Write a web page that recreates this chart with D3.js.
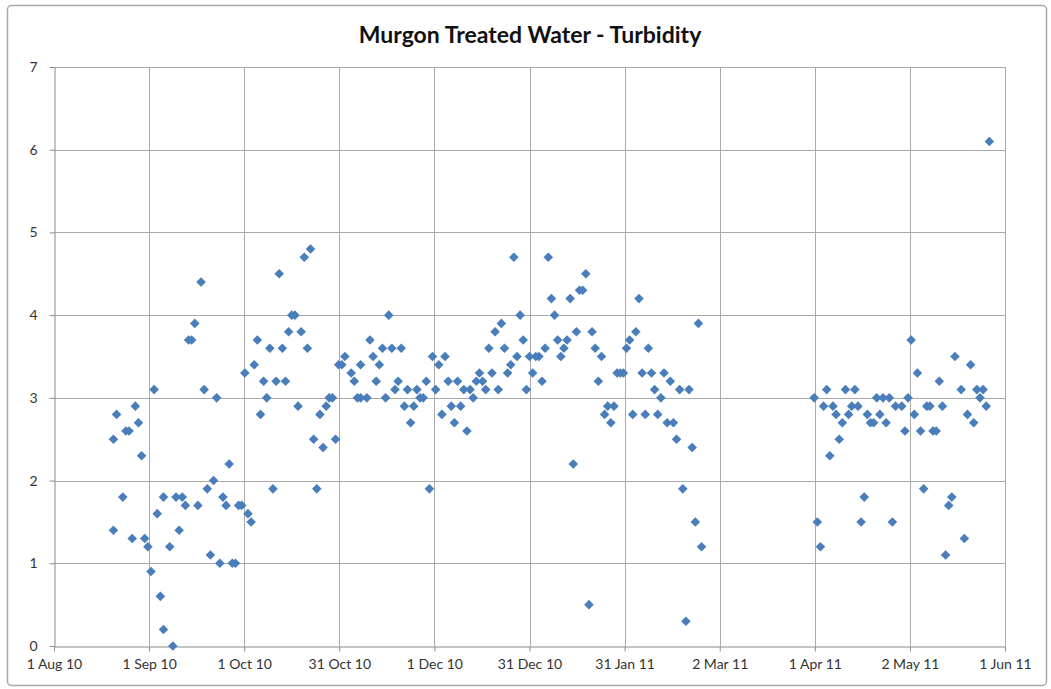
<!DOCTYPE html>
<html lang="en">
<head>
    <meta charset="UTF-8">
    <title>Murgon Treated Water - Turbidity</title>
    <style>
        body {
            margin: 0;
            padding: 0;
            background-color: #ffffff;
        }
        svg text {
            font-family: Lato, "Open Sans", sans-serif;
        }
        .chart-title {
            text-anchor: middle;
            font-size: 23px;
            font-weight: bold;
            fill: #111;
        }
        .tick text {
            font-size: 14px;
            fill: #333;
        }
        .grid line {
            stroke: #a9a9a9;
            stroke-width: 1;
        }
        .point {
            fill: #4a7ebb;
        }
    </style>
</head>
<body>
    <svg width="1051" height="689"></svg>

    <script src="https://d3js.org/d3.v7.min.js"></script>
    <script>
        // days after 1 Aug 2010, and the turbidity reading (NTU) for that day
        const sampleDay = [
            19, 19, 20, 22, 23, 24, 25, 26, 27, 28, 29, 30, 31, 32, 33, 34, 35, 35, 37, 38,
            39, 40, 41, 42, 43, 44, 45, 46, 47, 48, 49, 50, 51, 52, 53, 54, 55, 56, 57, 58,
            59, 60, 61, 62, 63, 64, 65, 66, 67, 68, 69, 70, 71, 72, 73, 74, 75, 76, 77, 78,
            79, 80, 81, 82, 83, 84, 85, 86, 87, 88, 89, 90, 91, 92, 93, 95, 96, 97, 98, 98,
            100, 101, 102, 103, 104, 105, 106, 107, 108, 109, 110, 111, 112, 113, 114, 115, 116, 117, 118, 119,
            120, 121, 122, 123, 124, 125, 126, 127, 128, 129, 130, 131, 132, 133, 134, 135, 136, 137, 138, 139,
            140, 141, 142, 143, 144, 145, 146, 147, 148, 149, 150, 151, 152, 153, 154, 155, 156, 157, 158, 159,
            160, 161, 162, 163, 164, 165, 166, 167, 168, 169, 170, 171, 172, 173, 174, 175, 176, 177, 178, 179,
            180, 181, 182, 183, 184, 185, 186, 187, 188, 189, 190, 191, 192, 193, 194, 195, 196, 197, 198, 199,
            200, 201, 202, 203, 204, 205, 206, 207,
            243, 244, 245, 246, 247, 248, 249, 250, 251, 252, 253, 254, 255, 256, 257, 258, 259, 260, 261, 262,
            263, 264, 265, 266, 267, 268, 269, 271, 272, 273, 274, 275, 276, 277, 278, 279, 280, 281, 282, 283,
            284, 285, 286, 287, 288, 290, 291, 292, 293, 294, 295, 296, 297, 298, 299
        ];
        const turbidity = [
            2.5, 1.4, 2.8, 1.8, 2.6, 2.6, 1.3, 2.9, 2.7, 2.3, 1.3, 1.2, 0.9, 3.1, 1.6, 0.6, 0.2, 1.8, 1.2, 0.0,
            1.8, 1.4, 1.8, 1.7, 3.7, 3.7, 3.9, 1.7, 4.4, 3.1, 1.9, 1.1, 2.0, 3.0, 1.0, 1.8, 1.7, 2.2, 1.0, 1.0,
            1.7, 1.7, 3.3, 1.6, 1.5, 3.4, 3.7, 2.8, 3.2, 3.0, 3.6, 1.9, 3.2, 4.5, 3.6, 3.2, 3.8, 4.0, 4.0, 2.9,
            3.8, 4.7, 3.6, 4.8, 2.5, 1.9, 2.8, 2.4, 2.9, 3.0, 3.0, 2.5, 3.4, 3.4, 3.5, 3.3, 3.2, 3.0, 3.4, 3.0,
            3.0, 3.7, 3.5, 3.2, 3.4, 3.6, 3.0, 4.0, 3.6, 3.1, 3.2, 3.6, 2.9, 3.1, 2.7, 2.9, 3.1, 3.0, 3.0, 3.2,
            1.9, 3.5, 3.1, 3.4, 2.8, 3.5, 3.2, 2.9, 2.7, 3.2, 2.9, 3.1, 2.6, 3.1, 3.0, 3.2, 3.3, 3.2, 3.1, 3.6,
            3.3, 3.8, 3.1, 3.9, 3.6, 3.3, 3.4, 4.7, 3.5, 4.0, 3.7, 3.1, 3.5, 3.3, 3.5, 3.5, 3.2, 3.6, 4.7, 4.2,
            4.0, 3.7, 3.5, 3.6, 3.7, 4.2, 2.2, 3.8, 4.3, 4.3, 4.5, 0.5, 3.8, 3.6, 3.2, 3.5, 2.8, 2.9, 2.7, 2.9,
            3.3, 3.3, 3.3, 3.6, 3.7, 2.8, 3.8, 4.2, 3.3, 2.8, 3.6, 3.3, 3.1, 2.8, 3.0, 3.3, 2.7, 3.2, 2.7, 2.5,
            3.1, 1.9, 0.3, 3.1, 2.4, 1.5, 3.9, 1.2,
            3.0, 1.5, 1.2, 2.9, 3.1, 2.3, 2.9, 2.8, 2.5, 2.7, 3.1, 2.8, 2.9, 3.1, 2.9, 1.5, 1.8, 2.8, 2.7, 2.7,
            3.0, 2.8, 3.0, 2.7, 3.0, 1.5, 2.9, 2.9, 2.6, 3.0, 3.7, 2.8, 3.3, 2.6, 1.9, 2.9, 2.9, 2.6, 2.6, 3.2,
            2.9, 1.1, 1.7, 1.8, 3.5, 3.1, 1.3, 2.8, 3.4, 2.7, 3.1, 3.0, 3.1, 2.9, 6.1
        ];
        const tickLabels = ["1 Aug 10", "1 Sep 10", "1 Oct 10", "31 Oct 10", "1 Dec 10", "31 Dec 10",
                            "31 Jan 11", "2 Mar 11", "1 Apr 11", "2 May 11", "1 Jun 11"];
        const yTicks = [0, 1, 2, 3, 4, 5, 6, 7];

        const svg = d3.select("svg");
        const plot = {left: 54, right: 1005, top: 67, bottom: 646};

        const start = new Date(2010, 7, 1);
        const end = new Date(2011, 5, 1);
        const majorUnit = 30.4 * 864e5; // Excel spreads the 11 ticks evenly
        const tickDates = tickLabels.map((_, i) => new Date(+start + i * majorUnit));

        const data = sampleDay.map((d, i) => ({date: d3.timeDay.offset(start, d), value: turbidity[i]}));

        const x = d3.scaleTime()
            .domain([start, end])
            .range([plot.left, plot.right]);

        const y = d3.scaleLinear()
            .domain([0, 7])
            .range([plot.bottom, plot.top]);

        // chart frame
        svg.append("rect")
            .attr("x", 7.5).attr("y", 5.5)
            .attr("width", 1039).attr("height", 680)
            .attr("rx", 4)
            .attr("fill", "#fff")
            .attr("stroke", "#a8a8a8")
            .attr("stroke-width", 1.5);

        // gridlines
        svg.append("g")
            .attr("class", "grid")
            .selectAll("line")
            .data(yTicks.slice(1))
            .join("line")
            .attr("x1", plot.left).attr("x2", plot.right)
            .attr("y1", d => Math.round(y(d)) + 0.5)
            .attr("y2", d => Math.round(y(d)) + 0.5);

        svg.append("g")
            .attr("class", "grid")
            .selectAll("line")
            .data(tickDates.slice(1))
            .join("line")
            .attr("x1", d => Math.round(x(d)) + 0.5)
            .attr("x2", d => Math.round(x(d)) + 0.5)
            .attr("y1", plot.top).attr("y2", plot.bottom);

        const xAxis = svg.append("g")
            .attr("transform", `translate(0,${plot.bottom + 0.5})`)
            .call(d3.axisBottom(x)
                .tickValues(tickDates)
                .tickFormat((d, i) => tickLabels[i])
                .tickSizeInner(5)
                .tickSizeOuter(0)
                .tickPadding(8));

        const yAxis = svg.append("g")
            .attr("transform", `translate(${plot.left + 0.5},0)`)
            .call(d3.axisLeft(y)
                .tickValues(yTicks)
                .tickFormat(d3.format("d"))
                .tickSizeInner(5)
                .tickSizeOuter(0)
                .tickPadding(12));

        [xAxis, yAxis].forEach(g => {
            g.selectAll(".domain, .tick line").attr("stroke", "#8a8a8a");
            g.selectAll("text").attr("font-family", null).attr("font-size", null);
        });

        // readings
        svg.append("g")
            .selectAll("path")
            .data(data)
            .join("path")
            .attr("class", "point")
            .attr("d", d3.symbol(d3.symbolSquare, 46))
            .attr("transform", d => `translate(${x(d.date)},${y(d.value)}) rotate(45)`);

        svg.append("text")
            .attr("class", "chart-title")
            .attr("x", 530)
            .attr("y", 43)
            .text("Murgon Treated Water - Turbidity");
    </script>
</body>
</html>
